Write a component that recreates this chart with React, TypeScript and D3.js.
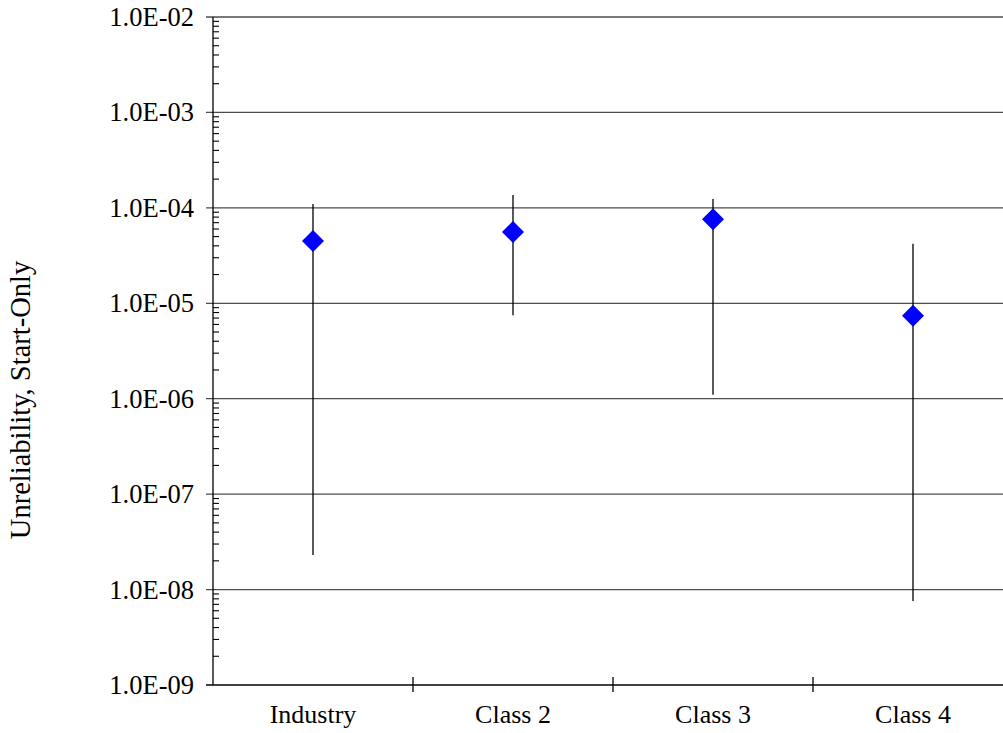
import React from "react";
import * as d3 from "d3";

const categories = ["Industry", "Class 2", "Class 3", "Class 4"];
const meanValues = [4.5e-5, 5.6e-5, 7.6e-5, 7.4e-6];
const upperValues = [1.1e-4, 1.36e-4, 1.24e-4, 4.2e-5];
const lowerValues = [2.3e-8, 7.5e-6, 1.1e-6, 7.6e-9];
const yTickExponents = [-2, -3, -4, -5, -6, -7, -8, -9];
const yTitle = "Unreliability, Start-Only";

const W = 1003;
const H = 733;
const left = 213;
const right = 1013;
const top = 17;
const bottom = 685;
const FONT = "'Liberation Serif', 'Times New Roman', serif";

export default function App() {
  const x = d3.scaleBand<string>().domain(categories).range([left, right]);
  const y = d3.scaleLog().domain([1e-9, 1e-2]).range([bottom, top]);

  const minor: number[] = [];
  for (let e = -9; e < -2; e++) {
    for (let m = 2; m <= 9; m++) minor.push(m * Math.pow(10, e));
  }

  const fmt = (e: number) => `1.0E-${String(-e).padStart(2, "0")}`;
  const r = 11;

  return (
    <svg
      width={W}
      height={H}
      style={{ position: "absolute", left: 0, top: 0, background: "#fff" }}
      fontFamily={FONT}
    >
      {yTickExponents.map((e) => (
        <line
          key={"g" + e}
          x1={left - 7}
          x2={right}
          y1={y(Math.pow(10, e))}
          y2={y(Math.pow(10, e))}
          stroke={e === -9 ? "#000" : "#4d4d4d"}
          strokeWidth={1.3}
        />
      ))}
      {minor.map((v, i) => (
        <line key={"m" + i} x1={left} x2={left + 6} y1={y(v)} y2={y(v)} stroke="#000" strokeWidth={1.1} />
      ))}
      <line x1={left} x2={left} y1={top} y2={bottom} stroke="#000" strokeWidth={1.3} />
      {yTickExponents.map((e) => (
        <text
          key={"t" + e}
          x={194}
          y={y(Math.pow(10, e)) + 9}
          textAnchor="end"
          fontSize={26.5}
          fill="#000"
        >
          {fmt(e)}
        </text>
      ))}
      {categories.slice(1).map((c) => (
        <line
          key={"xt" + c}
          x1={x(c)!}
          x2={x(c)!}
          y1={bottom - 8}
          y2={bottom + 7}
          stroke="#000"
          strokeWidth={1.3}
        />
      ))}
      {categories.map((c) => (
        <text
          key={"xl" + c}
          x={x(c)! + x.bandwidth() / 2}
          y={723}
          textAnchor="middle"
          fontSize={26}
          fill="#000"
        >
          {c}
        </text>
      ))}
      {categories.map((c, i) => {
        const cx = x(c)! + x.bandwidth() / 2;
        return (
          <line
            key={"e" + c}
            x1={cx}
            x2={cx}
            y1={y(upperValues[i])}
            y2={y(lowerValues[i])}
            stroke="#000"
            strokeWidth={1.3}
          />
        );
      })}
      {categories.map((c, i) => {
        const cx = x(c)! + x.bandwidth() / 2;
        const cy = y(meanValues[i]);
        return (
          <path
            key={"p" + c}
            d={`M${cx},${cy - r}L${cx + r},${cy}L${cx},${cy + r}L${cx - r},${cy}Z`}
            fill="#0000ff"
          />
        );
      })}
      <text
        transform={`translate(30,400) rotate(-90)`}
        textAnchor="middle"
        fontSize={28.5}
        fill="#000"
      >
        {yTitle}
      </text>
    </svg>
  );
}
